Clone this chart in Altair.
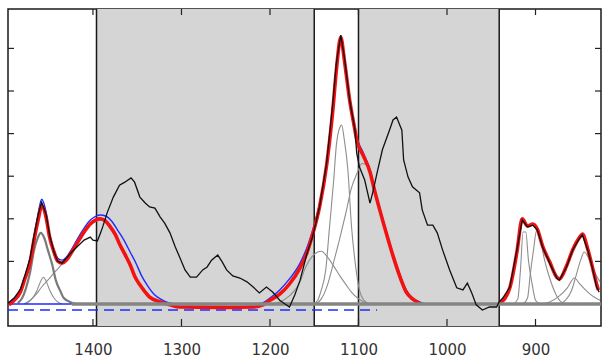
import altair as alt
import pandas as pd

# ---------------- data (wavenumber cm-1, intensity in tick units) ----------------
black_wn = [1496, 1489, 1482, 1477, 1471, 1467, 1462, 1458, 1453, 1449, 1444, 1440, 1435, 1430,
            1424, 1417, 1410, 1403, 1400, 1395, 1392, 1389, 1384, 1377, 1370, 1364, 1357, 1353,
            1347, 1341, 1336, 1330, 1324, 1319, 1313, 1307, 1302, 1296, 1290, 1283, 1276, 1271,
            1266, 1259, 1254, 1249, 1242, 1234, 1226, 1219, 1212, 1204, 1197, 1189, 1183, 1178,
            1172, 1166, 1158, 1152, 1144, 1136, 1129, 1125, 1120, 1116, 1110, 1104, 1102, 1099,
            1093, 1087, 1084, 1079, 1073, 1065, 1061, 1057, 1051, 1049, 1044, 1039, 1031, 1028,
            1022, 1016, 1011, 1005, 997, 989, 982, 977, 972, 967, 960, 952, 944, 941, 937, 929,
            921, 915, 909, 903, 898, 892, 884, 876, 873, 865, 858, 850, 847, 841, 836, 831, 828]
black_y = [0.02, 0.14, 0.35, 0.66, 1.08, 1.55, 2.09, 2.39, 2.11, 1.62, 1.22, 1.01, 0.96, 1.08,
           1.22, 1.36, 1.50, 1.57, 1.50, 1.48, 1.64, 1.81, 2.14, 2.51, 2.79, 2.86, 2.96, 2.86,
           2.51, 2.37, 2.28, 2.25, 2.04, 1.90, 1.67, 1.34, 1.10, 0.80, 0.63, 0.63, 0.80, 0.87,
           1.03, 1.15, 0.99, 0.80, 0.66, 0.61, 0.52, 0.40, 0.26, 0.40, 0.28, 0.09, 0.00, -0.07,
           0.21, 0.56, 1.20, 1.57, 2.28, 3.31, 4.72, 5.66, 6.31, 5.80, 4.79, 4.08, 3.54, 3.22,
           2.91, 2.37, 2.61, 3.08, 3.62, 4.08, 4.32, 4.39, 4.08, 3.38, 2.98, 2.75, 2.61, 2.21,
           1.85, 1.85, 1.67, 1.27, 0.80, 0.38, 0.33, 0.49, 0.26, -0.02, -0.14, -0.07, -0.07, 0.05, 0.14, 0.40,
           1.27, 1.97, 1.81, 1.85, 1.74, 1.34, 0.96, 0.61, 0.56, 0.87, 1.27, 1.55, 1.62, 1.27, 0.87, 0.40, 0.28]

red_wn = [1495, 1489, 1482, 1477, 1471, 1467, 1462, 1458, 1453, 1449, 1444, 1440, 1435, 1430,
          1424, 1417, 1410, 1403, 1397, 1392, 1386, 1381, 1375, 1370, 1364, 1358, 1353, 1347,
          1341, 1336, 1324, 1313, 1302, 1245, 1219, 1208, 1200, 1189, 1178, 1166, 1158, 1152,
          1144, 1136, 1129, 1125, 1120, 1116, 1110, 1104, 1102, 1095, 1087, 1082, 1076, 1068,
          1061, 1053, 1046, 1039, 1031]
red_y = [-0.02, 0.09, 0.28, 0.59, 0.99, 1.46, 1.97, 2.30, 2.04, 1.57, 1.22, 1.01, 0.96, 1.03,
         1.22, 1.46, 1.69, 1.88, 1.97, 2.00, 1.95, 1.83, 1.64, 1.41, 1.17, 0.92, 0.66, 0.45,
         0.28, 0.16, 0.05, -0.02, -0.07, -0.08, -0.07, -0.02, 0.09, 0.23, 0.47, 0.85, 1.22, 1.62,
         2.28, 3.26, 4.55, 5.49, 6.26, 5.73, 4.79, 4.08, 3.85, 3.50, 3.10, 2.68, 2.21, 1.62,
         1.13, 0.63, 0.28, 0.12, 0.02]

red2_wn = [941, 935, 929, 921, 915, 909, 903, 898, 892, 884, 876, 873, 865, 858, 850, 847,
           841, 836, 831, 829]
red2_y = [0.02, 0.12, 0.38, 1.22, 2.00, 1.83, 1.88, 1.76, 1.36, 0.99, 0.63, 0.59, 0.89, 1.27,
          1.57, 1.64, 1.29, 0.89, 0.47, 0.33]

blue_wn = [1495, 1489, 1482, 1477, 1471, 1467, 1462, 1458, 1453, 1449, 1444, 1440, 1435, 1430,
           1424, 1417, 1410, 1403, 1397, 1392, 1385, 1379, 1372, 1365, 1358, 1351, 1345, 1338,
           1331, 1324, 1313, 1302, 1217, 1209, 1200, 1189, 1178, 1166, 1158, 1152, 1144, 1136,
           1129, 1125, 1120, 1116, 1110, 1104, 1102, 1095, 1087, 1082, 1076, 1068, 1061, 1053,
           1046, 1039, 1031, 1025]
blue_y = [0.02, 0.14, 0.33, 0.63, 1.06, 1.55, 2.11, 2.46, 2.16, 1.64, 1.27, 1.08, 1.03, 1.10,
          1.29, 1.55, 1.78, 1.97, 2.06, 2.09, 2.06, 1.95, 1.73, 1.50, 1.22, 0.94, 0.66, 0.42,
          0.23, 0.12, 0.02, 0.00, 0.00, 0.02, 0.14, 0.33, 0.59, 0.96, 1.34, 1.71, 2.35, 3.31,
          4.60, 5.54, 6.29, 5.77, 4.84, 4.13, 3.92, 3.57, 3.15, 2.72, 2.25, 1.67, 1.17, 0.68,
          0.33, 0.14, 0.05, 0.00]

# component bands
g1_wn = [1485, 1480, 1476, 1471, 1467, 1462, 1459, 1455, 1451, 1446, 1442, 1437, 1433, 1426, 1419]
g1_y = [0.02, 0.14, 0.35, 0.75, 1.22, 1.57, 1.67, 1.55, 1.27, 0.92, 0.56, 0.31, 0.14, 0.05, 0.00]
g2_wn = [1476, 1469, 1464, 1460, 1456, 1453, 1449, 1444, 1440, 1435]
g2_y = [0.00, 0.12, 0.28, 0.49, 0.63, 0.54, 0.33, 0.14, 0.05, 0.00]
g3_wn = [1478, 1471, 1464, 1458, 1451, 1444, 1437, 1430, 1424, 1417, 1410, 1403, 1397, 1392,
         1386, 1381, 1375, 1370, 1364, 1358, 1353, 1347, 1341, 1336, 1324, 1313]
g3_y = [0.00, 0.09, 0.23, 0.40, 0.56, 0.73, 0.89, 1.08, 1.27, 1.50, 1.71, 1.85, 1.95, 1.97,
        1.95, 1.83, 1.64, 1.41, 1.17, 0.92, 0.66, 0.45, 0.28, 0.16, 0.05, 0.00]
m1_wn = [1200, 1189, 1178, 1166, 1160, 1153, 1146, 1142, 1135, 1128, 1121, 1114, 1108, 1101, 1094, 1085]
m1_y = [0.00, 0.05, 0.19, 0.52, 0.85, 1.10, 1.22, 1.24, 1.10, 0.89, 0.66, 0.45, 0.28, 0.14, 0.05, 0.00]
m2_wn = [1151, 1146, 1142, 1137, 1133, 1128, 1125, 1121, 1119, 1116, 1112, 1108, 1103, 1099, 1094, 1087]
m2_y = [0.00, 0.09, 0.33, 0.80, 1.74, 2.91, 3.73, 4.15, 4.20, 3.85, 3.15, 1.85, 0.85, 0.33, 0.09, 0.00]
m3_wn = [1148, 1142, 1135, 1128, 1121, 1114, 1108, 1102, 1096, 1092, 1087, 1082, 1076, 1068,
         1061, 1053, 1046, 1039, 1031, 1024]
m3_y = [0.00, 0.12, 0.45, 0.99, 1.55, 2.16, 2.72, 3.05, 3.30, 3.28, 3.10, 2.68, 2.21, 1.62,
        1.13, 0.63, 0.28, 0.12, 0.02, 0.00]
a_wn = [925, 920, 917, 914, 911, 908, 904, 900, 895]
a_y = [0.00, 0.12, 0.80, 1.69, 1.69, 1.03, 0.49, 0.09, 0.00]
b_wn = [914, 909, 906, 902, 899, 895, 891, 884, 877, 871, 864]
b_y = [0.00, 0.14, 0.68, 1.31, 1.71, 1.60, 1.15, 0.61, 0.23, 0.05, 0.00]
c_wn = [895, 884, 873, 864, 856, 850, 841, 832, 827]
c_y = [0.00, 0.05, 0.19, 0.38, 0.61, 0.47, 0.28, 0.14, 0.09]
d_wn = [873, 866, 859, 854, 849, 845, 840, 836, 831, 827]
d_y = [0.00, 0.09, 0.33, 0.68, 1.03, 1.22, 1.08, 0.89, 0.66, 0.52]

# baselines
base_gray_wn = [1424, 826]
base_gray_y = [0.0, 0.0]
base_blue_wn = [1496, 1424]
base_blue_y = [0.0, 0.0]
dash_blue_wn = [1496, 1079]
dash_blue_y = [-0.14, -0.14]

# shaded windows and their edges
shade_start = [1396, 1100]
shade_end = [1150, 941]
edges = [1396, 1150, 1100, 941]

x_ticks = [1400, 1300, 1200, 1100, 1000, 900]
y_ticks = [1, 2, 3, 4, 5, 6]

# ---------------- chart ----------------
W, H = 593, 317
xs = alt.Scale(domain=[826, 1496], reverse=True, nice=False, zero=False)
ys = alt.Scale(domain=[-0.516, 6.925], nice=False, zero=False)
x_axis = alt.Axis(values=x_ticks, ticks=False, domain=False, grid=False,
                  labelPadding=16, labelFontSize=15, labelFont="DejaVu Sans",
                  labelColor="#333333", title=None, format="d")


def X(field):
    return alt.X(field, scale=xs, axis=x_axis)


def Y(field):
    return alt.Y(field, scale=ys, axis=None)


def frame(wn, y, name):
    return pd.DataFrame({"wn": wn, "y": y, "s": name, "i": list(range(len(wn)))})


def line(df, color, width, dash=None, interp="linear"):
    kw = dict(color=color, strokeWidth=width, clip=True, interpolate=interp)
    if dash:
        kw["strokeDash"] = dash
    return alt.Chart(df).mark_line(**kw).encode(
        x=X("wn:Q"), y=Y("y:Q"), detail="s:N", order="i:Q",
    )


shade = alt.Chart(pd.DataFrame({"a": shade_start, "b": shade_end})).mark_rect(
    color="#d5d5d5"
).encode(x=X("a:Q"), x2="b:Q", y=alt.value(0), y2=alt.value(H))

vlines = alt.Chart(pd.DataFrame({"v": edges})).mark_rule(color="#1a1a1a", strokeWidth=1.5).encode(
    x=X("v:Q")
)

thin_comps = pd.concat([
    frame(g2_wn, g2_y, "g2"), frame(g3_wn, g3_y, "g3"),
    frame(m1_wn, m1_y, "m1"), frame(m2_wn, m2_y, "m2"), frame(m3_wn, m3_y, "m3"),
    frame(a_wn, a_y, "a"), frame(b_wn, b_y, "b"), frame(c_wn, c_y, "c"), frame(d_wn, d_y, "d"),
])

layers = [
    shade,
    vlines,
    line(thin_comps, "#8e8e8e", 1.1, interp="monotone"),
    line(frame(g1_wn, g1_y, "g1"), "#7a7a7a", 2.2, interp="monotone"),
    line(frame(dash_blue_wn, dash_blue_y, "bd"), "#1f2bff", 1.6, [10, 6]),
    line(frame(base_blue_wn, base_blue_y, "bb"), "#1f2bff", 1.4),
    line(frame(blue_wn, blue_y, "blue"), "#1f2bff", 1.4, interp="monotone"),
    line(pd.concat([frame(red_wn, red_y, "r1"), frame(red2_wn, red2_y, "r2")]), "#f21212", 3.6,
         interp="monotone"),
    line(frame(base_gray_wn, base_gray_y, "bg"), "#858585", 3.6),
    line(frame(black_wn, black_y, "black"), "#111111", 1.3),
]

tick_col = "#222222"
xt = pd.DataFrame({"t": x_ticks})
yt = pd.DataFrame({"t": y_ticks})
layers += [
    alt.Chart(xt).mark_rule(color=tick_col, strokeWidth=1.2).encode(
        x=X("t:Q"), y=alt.value(0), y2=alt.value(6)),
    alt.Chart(xt).mark_rule(color=tick_col, strokeWidth=1.2).encode(
        x=X("t:Q"), y=alt.value(H - 7), y2=alt.value(H)),
    alt.Chart(yt).mark_rule(color=tick_col, strokeWidth=1.2).encode(
        y=Y("t:Q"), x=alt.value(0), x2=alt.value(6)),
    alt.Chart(yt).mark_rule(color=tick_col, strokeWidth=1.2).encode(
        y=Y("t:Q"), x=alt.value(W - 6), x2=alt.value(W)),
]

chart = alt.layer(*layers).properties(
    width=W, height=H,
    autosize=alt.AutoSizeParams(type="none"),
    padding={"left": 8, "top": 9, "right": 1, "bottom": 32},
    background="white",
).configure_view(stroke="#1a1a1a", strokeWidth=1.5)

chart.save("out.html", embed_options={"renderer": "svg", "actions": False})
